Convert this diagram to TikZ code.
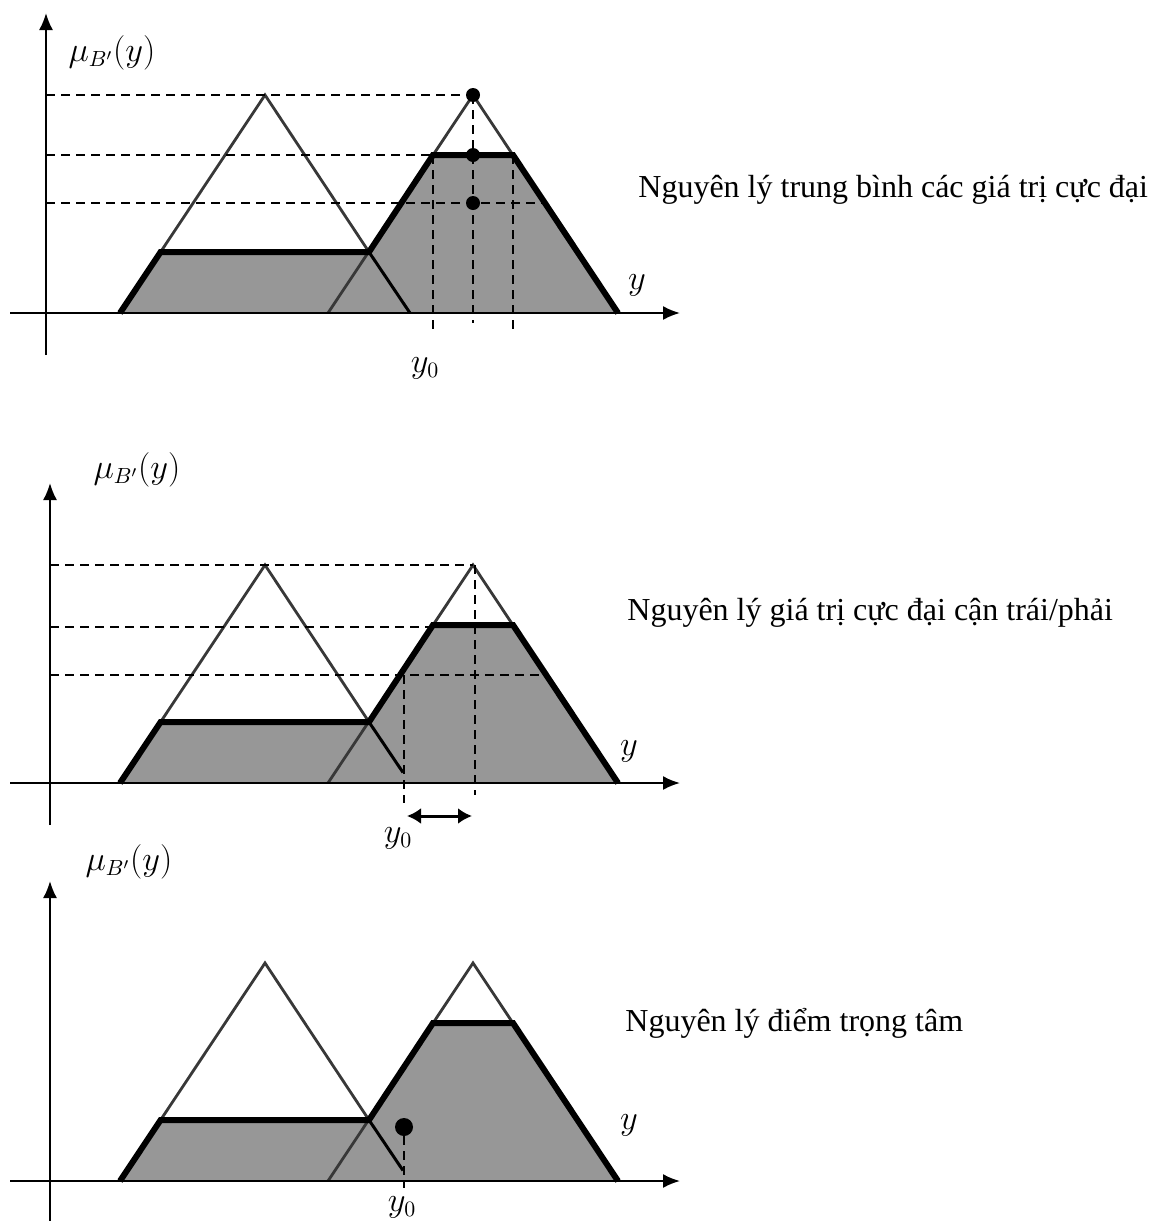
\documentclass[tikz,border=0pt]{standalone}
\usepackage{fontspec}
\setmainfont{Liberation Serif}
\usepackage{xcolor}
\usepackage{tikz}
\usetikzlibrary{arrows.meta}
\definecolor{areaColor}{HTML}{979797}
\definecolor{edgeColor}{HTML}{383838}

\begin{document}
\begin{tikzpicture}[x=0.5pt,y=-0.5pt,
		thinEdge/.style={edgeColor,line width=1.4pt,line join=miter},
		thickEdge/.style={black,line width=3pt,line join=miter},
		guideLine/.style={black,line width=0.9pt,dash pattern=on 4.5pt off 3pt},
		axisLine/.style={black,line width=1pt,-{Latex[length=8.5pt,width=7pt]}},
		caption/.style={font=\fontsize{16}{19}\selectfont,anchor=west,inner sep=0pt},
		mathLabel/.style={font=\fontsize{16}{19}\selectfont,inner sep=0pt}]
	\useasboundingbox (0,0) rectangle (1157,1221);
	\foreach \dy/\ax in {0/46,470/50,868/50}{
		\begin{scope}[shift={(0,\dy)}]
			\fill[areaColor] (120,313) -- (160.6,252) -- (369,252) -- (433,155) -- (513,155) -- (618,313) -- cycle;
			\draw[thinEdge] (120,313) -- (265,95) -- (369,252);
			\draw[thinEdge] (328,313) -- (473,95) -- (618,313);
			\draw[thickEdge] (120,313) -- (160.6,252) -- (369,252) -- (433,155) -- (513,155) -- (618,313);
			\draw[axisLine] (10,313) -- (680,313);
			\draw[axisLine] (\ax,355) -- (\ax,13);
		\end{scope}
	}
	\begin{scope}
		\draw[black,line width=1.5pt] (369,252) -- (410,313);
		\draw[guideLine] (46,95) -- (473,95);
		\draw[guideLine] (46,155) -- (513,155);
		\draw[guideLine] (46,203) -- (545,203);
		\draw[guideLine] (433,155) -- (433,330);
		\draw[guideLine] (473,95) -- (473,323);
		\draw[guideLine] (513,155) -- (513,330);
		\foreach \h in {95,155,203}
			\fill (473,\h) circle (3.5pt);
		\node[mathLabel] (muA) at (112,53) {$\mu_{B'}(y)$};
		\node[mathLabel] (yA) at (637,285) {$y$};
		\node[mathLabel] (yzeroA) at (425,368) {$y_0$};
		\node[caption] (ruleA) at (638,190) {Nguyên lý trung bình các giá trị cực đại};
	\end{scope}
	\begin{scope}[shift={(0,470)}]
		\draw[black,line width=1.5pt] (369,252) -- (403,302.5);
		\draw[guideLine] (50,95) -- (473,95);
		\draw[guideLine] (50,157) -- (433,157);
		\draw[guideLine] (50,205) -- (545,205);
		\draw[guideLine] (404,205) -- (404,333);
		\draw[guideLine] (475,95) -- (475,325);
		\draw[black,line width=1.5pt,{Latex[length=7pt,width=8pt]}-{Latex[length=7pt,width=8pt]}] (407,346) -- (472,346);
		\node[mathLabel] (muB) at (137,0) {$\mu_{B'}(y)$};
		\node[mathLabel] (yB) at (629,281) {$y$};
		\node[mathLabel] (yzeroB) at (398,368) {$y_0$};
		\node[caption] (ruleB) at (627,143) {Nguyên lý giá trị cực đại cận trái/phải};
	\end{scope}
	\begin{scope}[shift={(0,868)}]
		\draw[black,line width=1.5pt] (369,252) -- (403,302.5);
		\fill (404,259) circle (4.5pt);
		\draw[guideLine] (404,268) -- (404,320);
		\node[mathLabel] (muC) at (129,-6) {$\mu_{B'}(y)$};
		\node[mathLabel] (yC) at (629,257) {$y$};
		\node[mathLabel] (yzeroC) at (402,339) {$y_0$};
		\node[caption] (ruleC) at (625,155) {Nguyên lý điểm trọng tâm};
	\end{scope}
\end{tikzpicture}
\end{document}
